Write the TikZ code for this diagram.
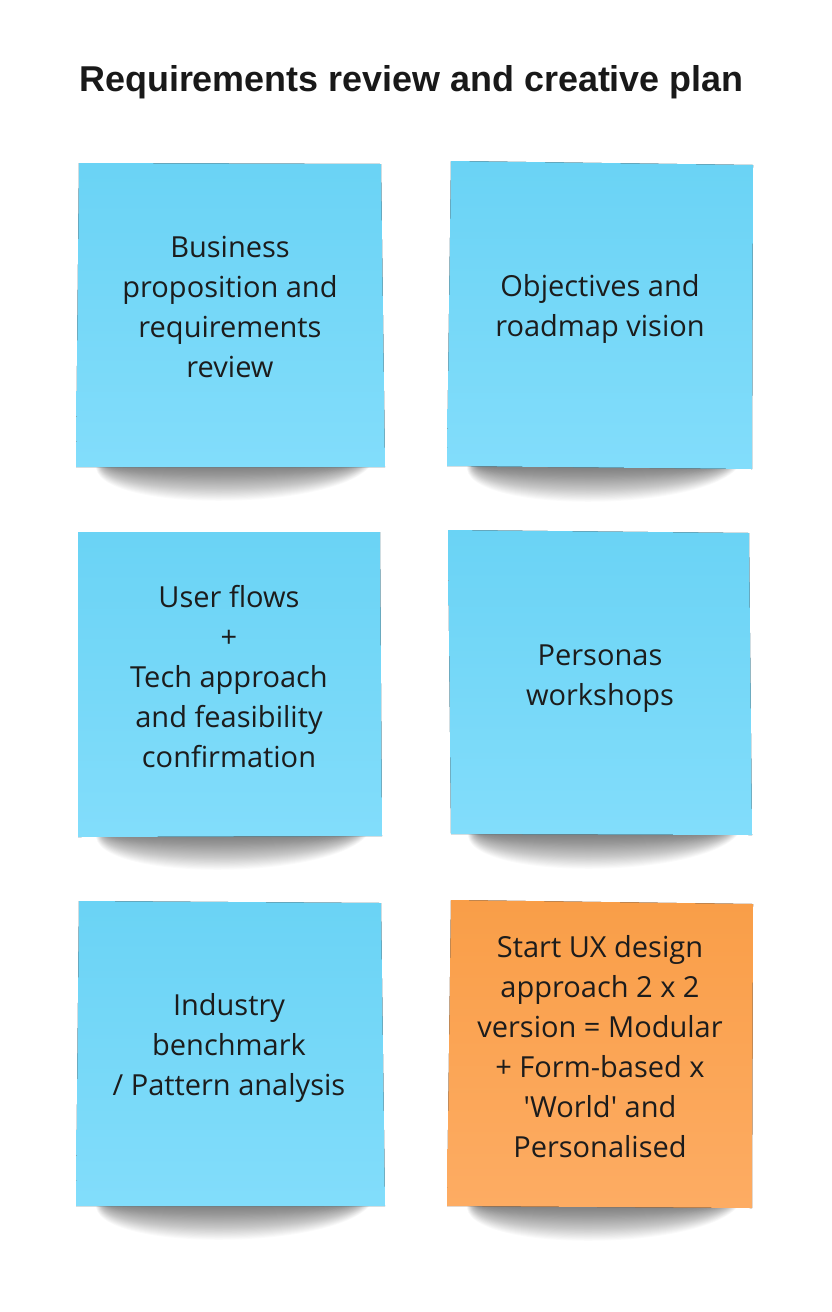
\documentclass[tikz,border=0pt]{standalone}
\usepackage{fontspec}
\setmainfont{Open Sans}
\newfontfamily\titlefont{Liberation Sans}
\definecolor{bluetop}{HTML}{6AD3F5}
\definecolor{bluebot}{HTML}{82DDFB}
\definecolor{orangetop}{HTML}{F99E48}
\definecolor{orangebot}{HTML}{FDAC63}
\definecolor{ink}{HTML}{1C1C1C}
\tikzset{
  notetext/.style={text=ink, align=center, inner sep=0pt,
    font=\fontsize{29}{40}\selectfont},
  titletext/.style={text=ink!90!black, inner sep=0pt,
    font=\titlefont\bfseries\fontsize{35.9}{42}\selectfont},
  bluenote/.style={top color=bluetop, bottom color=bluebot},
  orangenote/.style={top color=orangetop, bottom color=orangebot},
  shadowlayer/.style={fill=black, opacity=0.018},
}
\newcommand\noteshadow[3]{%
  \foreach \i in {0,...,29}{
    \fill[shadowlayer] (#1+18+\i*0.4, #3-3)
      .. controls (#1+10+\i*0.55, #3+46-1.5*\i) and (#2-45-\i*0.55, #3+46-1.5*\i)
      .. (#2-12-\i*0.6, #3-3) -- cycle;
  }%
}
\begin{document}
\begin{tikzpicture}[x=1pt,y=-1pt]
\fill[white] (0,0) rectangle (832,1312);
\useasboundingbox (0,0) rectangle (832,1312);

\node[titletext] (title) at (411.5,82) {Requirements review and creative plan};

% shadows
\noteshadow{78}{384}{467}
\noteshadow{449}{752}{468}
\noteshadow{78}{381}{836}
\noteshadow{450}{752}{835}
\noteshadow{78}{384}{1206}
\noteshadow{449}{752}{1207}

% notes
\fill[bluenote] (79,163) -- (381,164) -- (385,467) -- (76,467) -- cycle;
\fill[bluenote] (451,161) -- (753,165) -- (752,469) -- (447,466) -- cycle;
\fill[bluenote] (78,532) -- (380,532) -- (382,836) -- (78,837) -- cycle;
\fill[bluenote] (448,530) -- (749,533) -- (752,835) -- (451,834) -- cycle;
\fill[bluenote] (79,901) -- (381,903) -- (385,1206) -- (76,1206) -- cycle;
\fill[orangenote] (451,900) -- (753,904) -- (752,1208) -- (447,1206) -- cycle;

\node[notetext] (n1) at (230,307) {Business\\proposition and\\requirements\\review};
\node[notetext] (n2) at (600,309) {Objectives and\\roadmap vision};
\node[notetext] (n3) at (229,677) {User flows\\+\\Tech approach\\and feasibility\\confirmation};
\node[notetext] (n4) at (600,679) {Personas\\workshops};
\node[notetext] (n5) at (229,1048) {Industry\\benchmark\\/ Pattern analysis};
\node[notetext] (n6) at (600,1047) {Start UX design\\approach 2 x 2\\version = Modular\\+ Form-based x\\\textquotesingle World\textquotesingle{} and\\Personalised};
\end{tikzpicture}
\end{document}
